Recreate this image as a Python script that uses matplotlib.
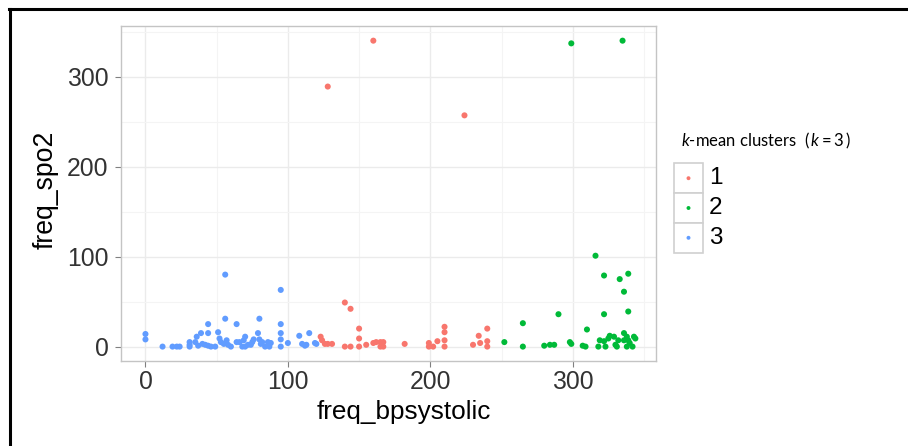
import matplotlib
matplotlib.use("Agg")
import matplotlib.pyplot as plt
from matplotlib.lines import Line2D
from matplotlib.patches import Rectangle
from matplotlib.ticker import MultipleLocator

# values (freq_bpsystolic, freq_spo2) per k-means cluster
bp_c1 = [123, 124, 126, 128, 131, 128, 140, 144, 140, 144, 150, 150, 150, 155, 160,
         160, 162, 165, 167, 165, 167, 182, 199, 199, 202, 205, 210, 210, 210, 210,
         224, 230, 234, 235, 240, 240, 240]
spo2_c1 = [11, 7, 3, 3, 3, 289, 49, 42, 0, 0, 20, 9, 0, 2, 4,
           340, 5, 5, 5, 0, 0, 3, 4, 0, 0, 6, 7, 22, 16, 0,
           257, 2, 12, 4, 20, 6, 0]

bp_c2 = [252, 265, 265, 280, 284, 287, 290, 298, 299, 299, 307, 309, 310, 316, 318,
         319, 322, 323, 322, 322, 325, 326, 329, 330, 331, 332, 333, 335, 336, 336,
         336, 338, 338, 339, 339, 339, 340, 342, 343, 344]
spo2_c2 = [5, 26, 0, 1, 2, 2, 36, 5, 3, 337, 1, 0, 19, 101, 0,
           7, 6, 0, 79, 36, 9, 12, 11, 2, 0, 7, 75, 340, 61, 15,
           7, 0, 11, 81, 39, 7, 4, 0, 11, 9]

bp_c3 = [0, 0, 12, 19, 22, 24, 31, 31, 31, 35, 36, 39, 37, 40, 42, 44, 44, 44, 46,
         49, 51, 52, 53, 55, 56, 56, 57, 58, 60, 64, 64, 66, 69, 70, 72, 68, 70, 74,
         75, 76, 80, 79, 80, 81, 82, 84, 87, 86, 88, 95, 95, 95, 95, 95, 100, 108,
         110, 112, 113, 115, 119, 120]
spo2_c3 = [14, 8, 0, 0, 0, 0, 0, 2, 5, 5, 11, 15, 1, 3, 2, 25, 15, 1, 0,
           0, 16, 9, 5, 3, 31, 80, 7, 2, 0, 25, 5, 5, 7, 11, 2, 0, 0, 2,
           5, 8, 31, 15, 8, 3, 5, 0, 0, 5, 4, 63, 25, 15, 8, 0, 4, 12,
           3, 1, 2, 15, 4, 3]

clusters = ["1", "2", "3"]
colors = ["#F8766D", "#00BA38", "#619CFF"]

plt.rcParams["font.family"] = ["Liberation Sans", "DejaVu Sans"]
plt.rcParams["mathtext.fontset"] = "custom"
plt.rcParams["mathtext.rm"] = "Lato"
plt.rcParams["mathtext.it"] = "Lato:italic"

fig = plt.figure(figsize=(9.08, 4.46), dpi=100)
ax = fig.add_axes([0.1329, 0.1906, 0.5896, 0.7511])

series = [(bp_c1, spo2_c1), (bp_c2, spo2_c2), (bp_c3, spo2_c3)]
for (xs, ys), col in zip(series, colors):
    ax.scatter(xs, ys, s=19, color=col, edgecolors="none", zorder=3)

ax.set_xlim(-17.4, 358.5)
ax.set_ylim(-16, 356.3)
ax.xaxis.set_major_locator(MultipleLocator(100))
ax.yaxis.set_major_locator(MultipleLocator(100))
ax.xaxis.set_minor_locator(MultipleLocator(50))
ax.yaxis.set_minor_locator(MultipleLocator(50))
ax.set_axisbelow(True)
ax.grid(which="major", color="#EBEBEB", lw=1.0)
ax.grid(which="minor", color="#F4F4F4", lw=0.8)
ax.tick_params(which="minor", length=0)
ax.tick_params(which="major", length=4.3, width=0.8, color="#808080",
               labelsize=17.8, labelcolor="#333333")
ax.tick_params(axis="x", pad=2)
ax.tick_params(axis="y", pad=4.5)
for sp in ax.spines.values():
    sp.set_color("#C4C4C4")
    sp.set_linewidth(1.0)

ax.set_xlabel("freq_bpsystolic", fontsize=18.8, color="black")
ax.set_ylabel("freq_spo2", fontsize=19.2, color="black", va="center")
ax.xaxis.set_label_coords(0.529, -0.117)
ax.yaxis.set_label_coords(-0.1395, 0.51)

# legend drawn as its own little axes, ggplot style keys
lax = fig.add_axes([674 / 908, 1 - 252.7 / 446, 29 / 908, 89.4 / 446])
lax.set_xlim(0, 1)
lax.set_ylim(3, 0)
lax.axis("off")
for i, (lab, col) in enumerate(zip(clusters, colors)):
    lax.add_patch(Rectangle((0, i), 1, 1, facecolor="white", edgecolor="#D0D0D0",
                            lw=1.2, clip_on=False))
    lax.scatter([0.5], [i + 0.5], s=8, color=col, edgecolors="none", zorder=3)
    lax.text(1.2, i + 0.5, lab, fontsize=17.5, va="center", ha="left", color="black")

fig.text(681 / 908, 1 - 141 / 446, r"$k$-mean clusters  $(\,k = 3\,)$",
         fontsize=12, family="Lato", va="center", ha="left", color="black")

# black frame lines along the top and left of the picture
fig.add_artist(Line2D([9 / 908, 1], [1 - 8.5 / 446] * 2, color="black", lw=2.2))
fig.add_artist(Line2D([9.5 / 908] * 2, [0, 1 - 8.5 / 446], color="black", lw=2.2))

fig.savefig("out.png", dpi=100, facecolor="white")
